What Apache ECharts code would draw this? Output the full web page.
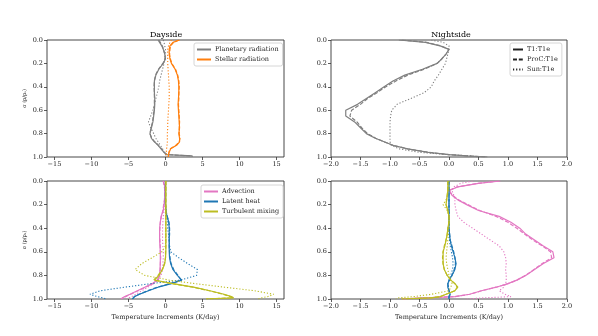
<!DOCTYPE html>
<html>
<head>
<meta charset="utf-8">
<script src="https://cdn.jsdelivr.net/npm/echarts@6/dist/echarts.min.js"></script>
<style>
  html, body { margin: 0; padding: 0; background: #fff; }
  #chart { width: 598px; height: 336px; }
</style>
</head>
<body>
<div id="chart"></div>
<script>
// sigma levels (p/ps), shared by every profile
const sigma = [0, 0.02, 0.05, 0.08, 0.12, 0.16, 0.2, 0.25, 0.3, 0.35, 0.4, 0.45, 0.5, 0.55, 0.6, 0.65, 0.7, 0.75, 0.8, 0.84, 0.87, 0.9, 0.93, 0.96, 0.98, 0.99, 1.0]

// dayside radiation (K/day)
const dayPlanetT1 = [-1.0, -0.8, -0.5, -0.3, -0.1, 0.0, -0.3, -0.9, -1.3, -1.5, -1.5, -1.5, -1.45, -1.45, -1.5, -1.6, -1.7, -1.9, -2.1, -1.9, -1.5, -1.0, -0.6, -0.2, 0.2, 3.6, 3.6]
const dayPlanetProC = [-0.9, -0.7, -0.45, -0.25, -0.1, -0.05, -0.35, -0.95, -1.35, -1.5, -1.55, -1.5, -1.5, -1.5, -1.55, -1.65, -1.75, -1.95, -2.1, -1.85, -1.45, -0.95, -0.55, -0.2, 0.2, 3.4, 3.5]
const dayPlanetSun = [-0.3, -0.2, -0.1, 0.0, 0.0, -0.1, -0.2, -0.4, -0.6, -0.8, -0.9, -1.1, -1.3, -1.5, -1.7, -2.0, -2.3, -2.0, -1.6, -1.3, -1.0, -0.7, -0.4, -0.2, 0.0, 0.3, 0.5]
const dayStellarT1 = [1.9, 1.0, 0.6, 0.5, 0.5, 0.6, 0.8, 1.3, 1.6, 1.75, 1.8, 1.8, 1.75, 1.7, 1.75, 1.8, 1.85, 1.9, 1.8, 1.9, 1.9, 1.5, 0.7, 0.5, 0.4, 0.4, 0.4]
const dayStellarProC = [1.8, 1.1, 0.7, 0.6, 0.55, 0.65, 0.85, 1.35, 1.65, 1.8, 1.85, 1.8, 1.8, 1.75, 1.8, 1.85, 1.9, 1.85, 1.85, 1.95, 1.85, 1.4, 0.65, 0.45, 0.4, 0.4, 0.4]
const dayStellarSun = [0.8, 0.6, 0.4, 0.3, 0.3, 0.3, 0.3, 0.35, 0.4, 0.45, 0.5, 0.5, 0.5, 0.45, 0.4, 0.35, 0.3, 0.3, 0.25, 0.25, 0.25, 0.2, 0.15, 0.1, 0.1, 0.1, 0.1]

// nightside radiation
const nightPlanetT1 = [-0.85, -0.4, -0.15, 0.0, -0.05, -0.12, -0.2, -0.45, -0.75, -0.95, -1.1, -1.25, -1.4, -1.55, -1.75, -1.75, -1.6, -1.5, -1.4, -1.25, -1.1, -0.95, -0.7, -0.35, 0.0, 0.3, 0.65]
const nightPlanetProC = [-0.8, -0.38, -0.14, 0.0, -0.05, -0.12, -0.2, -0.42, -0.7, -0.9, -1.07, -1.22, -1.38, -1.5, -1.65, -1.68, -1.56, -1.48, -1.38, -1.24, -1.1, -0.95, -0.7, -0.35, 0.0, 0.3, 0.62]
const nightPlanetSun = [-0.3, -0.1, 0.0, 0.0, -0.02, -0.04, -0.06, -0.12, -0.18, -0.25, -0.3, -0.42, -0.65, -0.88, -0.97, -0.99, -1.0, -1.0, -1.0, -1.0, -1.0, -0.98, -0.85, -0.5, 0.0, 0.35, 0.5]

// dayside dynamics / moisture / mixing
const dayAdvT1 = [-0.3, -0.2, -0.1, -0.1, -0.1, -0.1, -0.2, -0.3, -0.6, -0.7, -0.8, -0.8, -0.8, -0.75, -0.7, -0.7, -0.7, -0.75, -0.8, -1.1, -1.8, -2.8, -3.8, -4.8, -5.5, -5.8, -6.0]
const dayAdvProC = [-0.3, -0.25, -0.15, -0.1, -0.1, -0.15, -0.25, -0.35, -0.55, -0.7, -0.75, -0.8, -0.75, -0.7, -0.7, -0.65, -0.7, -0.7, -0.8, -1.0, -1.7, -2.7, -3.7, -4.7, -5.4, -5.7, -5.9]
const dayAdvSun = [-0.2, -0.15, -0.1, -0.05, -0.05, -0.1, -0.15, -0.2, -0.3, -0.35, -0.4, -0.4, -0.4, -0.35, -0.3, -0.3, -0.35, -0.4, -0.6, -1.0, -1.6, -2.4, -3.2, -4.0, -4.6, -4.9, -5.0]
const dayLatT1 = [0, 0, 0, 0, 0, 0, 0, 0.05, 0.2, 0.45, 0.5, 0.5, 0.5, 0.5, 0.5, 0.55, 0.7, 1.0, 1.6, 2.2, 0.8, -1.0, -2.3, -3.5, -4.2, -4.4, -4.5]
const dayLatProC = [0, 0, 0, 0, 0, 0, 0, 0.05, 0.25, 0.45, 0.55, 0.55, 0.5, 0.5, 0.55, 0.6, 0.75, 1.1, 1.7, 2.1, 0.6, -1.1, -2.4, -3.6, -4.2, -4.3, -4.4]
const dayLatSun = [0, 0, 0, 0, 0, 0, 0, 0.1, 0.2, 0.25, 0.3, 0.4, 0.5, 0.55, 0.7, 1.8, 3.0, 4.3, 4.2, 2.0, -2.0, -5.5, -8.8, -10.2, -9.2, -8.5, -8.0]
const dayTurbT1 = [0.05, 0.05, 0.05, 0.05, 0.05, 0.05, 0.05, 0.05, 0.05, 0.05, 0.05, 0.05, 0.05, 0.05, 0.05, 0.0, -0.1, -0.4, -0.9, -1.5, 1.0, 3.8, 6.0, 7.9, 8.9, 9.2, 5.5]
const dayTurbProC = [0.05, 0.05, 0.05, 0.05, 0.05, 0.05, 0.05, 0.05, 0.05, 0.05, 0.05, 0.05, 0.05, 0.05, 0.0, 0.0, -0.15, -0.45, -1.0, -1.6, 0.9, 3.7, 5.9, 7.8, 8.8, 9.1, 5.5]
const dayTurbSun = [0, 0, 0, 0, 0, 0, 0, 0, 0, 0, 0, 0, 0, 0.0, -0.5, -1.8, -3.2, -4.1, -2.8, 0.5, 4.0, 8.0, 12.0, 14.6, 13.8, 13.0, 12.5]

// nightside dynamics / moisture / mixing
const nightAdvT1 = [0.87, 0.5, 0.15, 0.0, 0.05, 0.15, 0.3, 0.5, 0.85, 1.05, 1.2, 1.3, 1.45, 1.6, 1.76, 1.78, 1.6, 1.45, 1.3, 1.15, 1.0, 0.8, 0.55, 0.35, 0.1, -0.4, -0.8]
const nightAdvProC = [0.85, 0.48, 0.14, 0.0, 0.06, 0.16, 0.32, 0.52, 0.8, 1.0, 1.15, 1.28, 1.42, 1.58, 1.72, 1.74, 1.58, 1.44, 1.3, 1.15, 1.0, 0.8, 0.55, 0.35, 0.1, -0.4, -0.8]
const nightAdvSun = [0.4, 0.2, 0.08, 0.05, 0.08, 0.1, 0.1, 0.12, 0.15, 0.25, 0.4, 0.55, 0.7, 0.85, 0.93, 0.96, 0.97, 0.96, 0.97, 0.97, 0.96, 0.93, 0.85, 0.95, 1.05, 0.6, 0.3]
const nightLatT1 = [0, 0, 0, 0, 0, 0, 0, 0, 0, 0, 0, 0.01, 0.02, 0.04, 0.07, 0.1, 0.12, 0.1, 0.05, 0.0, -0.02, -0.02, 0.0, 0.02, 0.0, 0.0, 0.0]
const nightLatProC = [0, 0, 0, 0, 0, 0, 0, 0, 0, 0, 0, 0.01, 0.02, 0.05, 0.08, 0.1, 0.11, 0.09, 0.05, 0.01, -0.02, -0.01, 0.0, 0.02, 0.0, 0.0, 0.0]
const nightLatSun = [0, 0, 0, 0, 0, 0, 0, 0, 0, 0, 0, 0, 0.01, 0.02, 0.04, 0.06, 0.07, 0.06, 0.03, 0.0, -0.01, -0.01, 0.0, 0.01, 0.0, 0.0, 0.0]
const nightTurbT1 = [-0.02, -0.02, -0.02, -0.02, -0.03, -0.04, -0.05, -0.02, 0.0, 0.0, -0.02, -0.03, -0.05, -0.07, -0.1, -0.1, -0.1, -0.08, -0.03, 0.03, 0.1, 0.15, 0.1, -0.05, -0.15, -0.3, -0.8]
const nightTurbProC = [-0.02, -0.02, -0.02, -0.02, -0.03, -0.04, -0.05, -0.02, 0.0, 0.0, -0.02, -0.03, -0.05, -0.08, -0.1, -0.11, -0.1, -0.08, -0.03, 0.03, 0.1, 0.14, 0.1, -0.05, -0.15, -0.3, -0.8]
const nightTurbSun = [0, 0, 0, 0, -0.02, -0.05, -0.1, -0.03, 0.0, 0.0, 0.0, -0.01, -0.02, -0.03, -0.04, -0.05, -0.04, -0.02, 0.0, 0.03, 0.05, 0.03, 0.0, -0.3, -0.6, -0.85, -0.9]

const dayTicks = [-15, -10, -5, 0, 5, 10, 15]
const nightTicks = [-2, -1.5, -1, -0.5, 0, 0.5, 1, 1.5, 2]
const sigmaTicks = [0, 0.2, 0.4, 0.6, 0.8, 1.0]

const FONT = 'DejaVu Serif'
const INK = '#222'
const GRAY = '#7f7f7f'
const ORANGE = '#ff7f0e'
const PINK = '#e377c2'
const BLUE = '#1f77b4'
const OLIVE = '#bcbd22'

const dash = { T1: 'solid', ProC: [4, 1.8], Sun: [1.2, 1.9] }

const profile = (xs) => xs.map((x, i) => [x, sigma[i]])
const minus = (s) => String(s).replace('-', '\u2212')

const series = []
const addProfile = (name, values, color, run, gi) => {
  series.push({
    name,
    type: 'line',
    xAxisIndex: gi,
    yAxisIndex: gi,
    data: profile(values),
    symbol: 'none',
    silent: true,
    animation: false,
    color,
    lineStyle: { color, width: run === 'Sun' ? 1.1 : 1.2, type: dash[run] }
  })
}

// top-left: dayside radiation
addProfile('Planetary radiation', dayPlanetT1, GRAY, 'T1', 0)
addProfile('Planetary radiation ProC', dayPlanetProC, GRAY, 'ProC', 0)
addProfile('Planetary radiation Sun', dayPlanetSun, GRAY, 'Sun', 0)
addProfile('Stellar radiation', dayStellarT1, ORANGE, 'T1', 0)
addProfile('Stellar radiation ProC', dayStellarProC, ORANGE, 'ProC', 0)
addProfile('Stellar radiation Sun', dayStellarSun, ORANGE, 'Sun', 0)
// top-right: nightside radiation
addProfile('night planetary T1', nightPlanetT1, GRAY, 'T1', 1)
addProfile('night planetary ProC', nightPlanetProC, GRAY, 'ProC', 1)
addProfile('night planetary Sun', nightPlanetSun, GRAY, 'Sun', 1)
// bottom-left
addProfile('Advection', dayAdvT1, PINK, 'T1', 2)
addProfile('Advection ProC', dayAdvProC, PINK, 'ProC', 2)
addProfile('Advection Sun', dayAdvSun, PINK, 'Sun', 2)
addProfile('Latent heat', dayLatT1, BLUE, 'T1', 2)
addProfile('Latent heat ProC', dayLatProC, BLUE, 'ProC', 2)
addProfile('Latent heat Sun', dayLatSun, BLUE, 'Sun', 2)
addProfile('Turbulent mixing', dayTurbT1, OLIVE, 'T1', 2)
addProfile('Turbulent mixing ProC', dayTurbProC, OLIVE, 'ProC', 2)
addProfile('Turbulent mixing Sun', dayTurbSun, OLIVE, 'Sun', 2)
// bottom-right
addProfile('night adv T1', nightAdvT1, PINK, 'T1', 3)
addProfile('night adv ProC', nightAdvProC, PINK, 'ProC', 3)
addProfile('night adv Sun', nightAdvSun, PINK, 'Sun', 3)
addProfile('night lat T1', nightLatT1, BLUE, 'T1', 3)
addProfile('night lat ProC', nightLatProC, BLUE, 'ProC', 3)
addProfile('night lat Sun', nightLatSun, BLUE, 'Sun', 3)
addProfile('night turb T1', nightTurbT1, OLIVE, 'T1', 3)
addProfile('night turb ProC', nightTurbProC, OLIVE, 'ProC', 3)
addProfile('night turb Sun', nightTurbSun, OLIVE, 'Sun', 3)
// legend-only entries for the runs
addProfile('T1:T1e', [], INK, 'T1', 1)
addProfile('ProC:T1e', [], INK, 'ProC', 1)
addProfile('Sun:T1e', [], INK, 'Sun', 1)

const grids = [
  { left: 47, top: 40, width: 237, height: 117 },
  { left: 331, top: 40, width: 236, height: 117 },
  { left: 47, top: 181, width: 237, height: 118 },
  { left: 331, top: 181, width: 236, height: 118 }
].map(g => ({ ...g, show: true, borderColor: '#333', borderWidth: 0.9, backgroundColor: 'transparent' }))

const xAxis = grids.map((g, i) => {
  const day = i % 2 === 0
  const ticks = day ? dayTicks : nightTicks
  return {
    type: 'value',
    gridIndex: i,
    position: 'bottom',
    min: day ? -16 : -2,
    max: day ? 16 : 2,
    splitLine: { show: false },
    axisLine: { show: false, onZero: false },
    axisTick: { show: true, length: 3, inside: false, customValues: ticks, lineStyle: { color: '#333', width: 0.8 } },
    axisLabel: {
      customValues: ticks,
      margin: 4,
      fontSize: 6.5,
      fontFamily: FONT,
      color: INK,
      formatter: v => minus(day ? v : v.toFixed(1))
    },
    name: i >= 2 ? 'Temperature Increments (K/day)' : '',
    nameLocation: 'middle',
    nameGap: 15,
    nameTextStyle: { fontSize: 6.5, fontFamily: FONT, color: INK }
  }
})

const yAxis = grids.map((g, i) => ({
  type: 'value',
  gridIndex: i,
  position: 'left',
  min: 0,
  max: 1,
  inverse: true,
  splitLine: { show: false },
  axisLine: { show: false, onZero: false },
  axisTick: { show: true, length: 3, customValues: sigmaTicks, lineStyle: { color: '#333', width: 0.8 } },
  axisLabel: {
    customValues: sigmaTicks,
    margin: 4,
    fontSize: 6.5,
    fontFamily: FONT,
    color: INK,
    formatter: v => v.toFixed(1)
  },
  name: i % 2 === 0 ? 'σ (p/pₛ)' : '',
  nameLocation: 'middle',
  nameRotate: 90,
  nameGap: 20,
  nameTextStyle: { fontSize: 5, fontFamily: FONT, color: INK }
}))

const legendBase = {
  orient: 'vertical',
  backgroundColor: '#fff',
  borderColor: '#ccc',
  borderWidth: 0.8,
  borderRadius: 2,
  padding: [3, 4, 3, 2],
  itemGap: 3,
  itemWidth: 14,
  itemHeight: 6,
  itemStyle: { opacity: 0 },
  selectedMode: false,
  textStyle: { fontSize: 6.5, fontFamily: FONT, color: INK, padding: [0, 0, 0, -1] }
}

const option = {
  backgroundColor: '#fff',
  animation: false,
  title: [
    { text: 'Dayside', left: 161, top: 26, textAlign: 'center', textStyle: { fontSize: 8, fontWeight: 'normal', fontFamily: FONT, color: '#000' } },
    { text: 'Nightside', left: 446, top: 26, textAlign: 'center', textStyle: { fontSize: 8, fontWeight: 'normal', fontFamily: FONT, color: '#000' } }
  ],
  legend: [
    { ...legendBase, left: 194, top: 43, data: ['Planetary radiation', 'Stellar radiation'] },
    { ...legendBase, left: 510, top: 43, itemWidth: 10, data: ['T1:T1e', 'ProC:T1e', 'Sun:T1e'] },
    { ...legendBase, left: 201, top: 185, data: ['Advection', 'Latent heat', 'Turbulent mixing'] }
  ],
  grid: grids,
  xAxis,
  yAxis,
  series
}

const chart = echarts.init(document.getElementById('chart'), null, { renderer: 'canvas' })
chart.setOption(option)
</script>
</body>
</html>
